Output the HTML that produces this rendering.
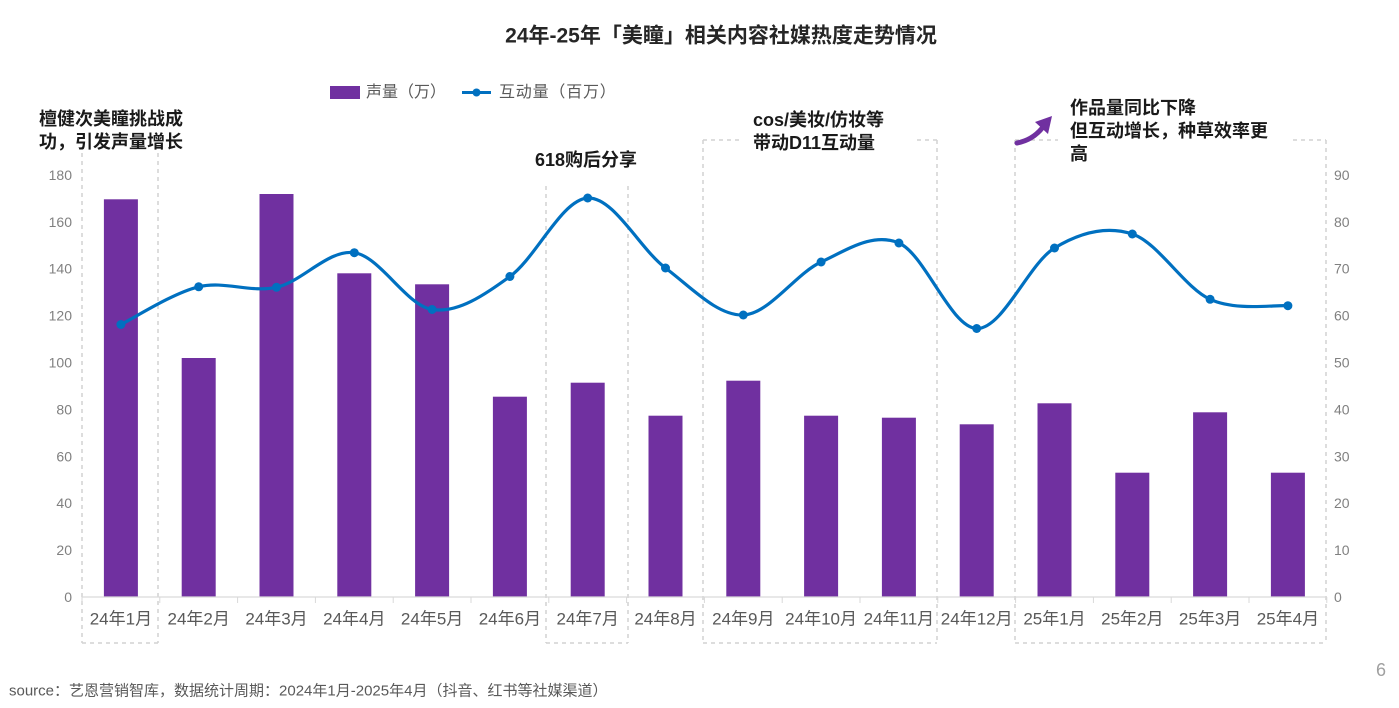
<!DOCTYPE html>
<html>
<head>
<meta charset="utf-8">
<style>
html,body{margin:0;padding:0;background:#fff;}
body{width:1399px;height:708px;overflow:hidden;}
svg{display:block;font-family:"Liberation Sans","Noto Sans CJK SC",sans-serif;}
.ax{font-size:14px;fill:#808080;}
.xl{font-size:17px;fill:#595959;}
.ann{font-size:18px;font-weight:700;fill:#1a1a1a;}
</style>
</head>
<body>
<svg width="1399" height="708" viewBox="0 0 1399 708" xmlns="http://www.w3.org/2000/svg">
  <rect width="1399" height="708" fill="#fff"/>

  <!-- Title -->
  <text x="721" y="36" text-anchor="middle" dominant-baseline="central" font-size="21" font-weight="700" fill="#262626">24年-25年「美瞳」相关内容社媒热度走势情况</text>

  <!-- Legend -->
  <rect x="330" y="86" width="30" height="13" fill="#7030a0"/>
  <text x="366" y="92.5" dominant-baseline="central" font-size="16" fill="#595959">声量（万）</text>
  <line x1="462" y1="92.5" x2="491" y2="92.5" stroke="#0070c0" stroke-width="3"/>
  <circle cx="476.5" cy="92.5" r="4" fill="#0070c0"/>
  <text x="499" y="92.5" dominant-baseline="central" font-size="16" fill="#595959" letter-spacing="0.8">互动量（百万）</text>

  <!-- Dashed highlight boxes -->
  <g fill="none" stroke="#d2d2d2" stroke-width="1.5" stroke-dasharray="4 4">
    <!-- box 24年1月 -->
    <line x1="82" y1="153" x2="82" y2="643"/>
    <line x1="158" y1="153" x2="158" y2="643"/>
    <line x1="82" y1="643" x2="158" y2="643"/>
    <!-- box 24年7月 -->
    <line x1="546" y1="186" x2="546" y2="643"/>
    <line x1="628" y1="186" x2="628" y2="643"/>
    <line x1="546" y1="643" x2="628" y2="643"/>
    <!-- box 24年9-11月 -->
    <line x1="703" y1="140" x2="703" y2="643"/>
    <line x1="937" y1="140" x2="937" y2="643"/>
    <line x1="703" y1="643" x2="937" y2="643"/>
    <line x1="703" y1="140" x2="740" y2="140"/>
    <line x1="917" y1="140" x2="937" y2="140"/>
    <!-- box 25年1-4月 -->
    <line x1="1015" y1="140" x2="1015" y2="643"/>
    <line x1="1326" y1="140" x2="1326" y2="643"/>
    <line x1="1015" y1="643" x2="1326" y2="643"/>
    <line x1="1015" y1="140" x2="1058" y2="140"/>
    <line x1="1293" y1="140" x2="1326" y2="140"/>
  </g>

  <!-- Left axis labels -->
  <g class="ax" text-anchor="end" dominant-baseline="central">
    <text x="72" y="597">0</text>
    <text x="72" y="550.1">20</text>
    <text x="72" y="503.2">40</text>
    <text x="72" y="456.3">60</text>
    <text x="72" y="409.4">80</text>
    <text x="72" y="362.5">100</text>
    <text x="72" y="315.6">120</text>
    <text x="72" y="268.7">140</text>
    <text x="72" y="221.8">160</text>
    <text x="72" y="174.9">180</text>
  </g>
  <!-- Right axis labels -->
  <g class="ax" text-anchor="start" dominant-baseline="central">
    <text x="1334" y="597">0</text>
    <text x="1334" y="550.1">10</text>
    <text x="1334" y="503.2">20</text>
    <text x="1334" y="456.3">30</text>
    <text x="1334" y="409.4">40</text>
    <text x="1334" y="362.5">50</text>
    <text x="1334" y="315.6">60</text>
    <text x="1334" y="268.7">70</text>
    <text x="1334" y="221.8">80</text>
    <text x="1334" y="174.9">90</text>
  </g>

  <!-- Bars -->
  <g fill="#7030a0">
    <rect x="103.9" y="199.3" width="34" height="397.7"/>
    <rect x="181.7" y="358" width="34" height="239"/>
    <rect x="259.5" y="194" width="34" height="403"/>
    <rect x="337.3" y="273.3" width="34" height="323.7"/>
    <rect x="415.1" y="284.3" width="34" height="312.7"/>
    <rect x="492.9" y="396.7" width="34" height="200.3"/>
    <rect x="570.7" y="382.7" width="34" height="214.3"/>
    <rect x="648.5" y="415.7" width="34" height="181.3"/>
    <rect x="726.3" y="380.7" width="34" height="216.3"/>
    <rect x="804.1" y="415.7" width="34" height="181.3"/>
    <rect x="881.9" y="417.7" width="34" height="179.3"/>
    <rect x="959.7" y="424.3" width="34" height="172.7"/>
    <rect x="1037.5" y="403.3" width="34" height="193.7"/>
    <rect x="1115.3" y="472.7" width="34" height="124.3"/>
    <rect x="1193.1" y="412.3" width="34" height="184.7"/>
    <rect x="1270.9" y="472.7" width="34" height="124.3"/>
  </g>

  <!-- X axis -->
  <line x1="82" y1="597" x2="1327" y2="597" stroke="#d9d9d9" stroke-width="1.2"/>
  <g stroke="#d9d9d9" stroke-width="1">
    <line x1="82" y1="597" x2="82" y2="603"/>
    <line x1="159.8" y1="597" x2="159.8" y2="603"/>
    <line x1="237.6" y1="597" x2="237.6" y2="603"/>
    <line x1="315.4" y1="597" x2="315.4" y2="603"/>
    <line x1="393.2" y1="597" x2="393.2" y2="603"/>
    <line x1="471" y1="597" x2="471" y2="603"/>
    <line x1="548.8" y1="597" x2="548.8" y2="603"/>
    <line x1="626.6" y1="597" x2="626.6" y2="603"/>
    <line x1="704.4" y1="597" x2="704.4" y2="603"/>
    <line x1="782.2" y1="597" x2="782.2" y2="603"/>
    <line x1="860" y1="597" x2="860" y2="603"/>
    <line x1="937.8" y1="597" x2="937.8" y2="603"/>
    <line x1="1015.6" y1="597" x2="1015.6" y2="603"/>
    <line x1="1093.4" y1="597" x2="1093.4" y2="603"/>
    <line x1="1171.2" y1="597" x2="1171.2" y2="603"/>
    <line x1="1249" y1="597" x2="1249" y2="603"/>
    <line x1="1326.8" y1="597" x2="1326.8" y2="603"/>
  </g>
  <g class="xl" text-anchor="middle" dominant-baseline="central">
    <text x="120.9" y="619">24年1月</text>
    <text x="198.7" y="619">24年2月</text>
    <text x="276.5" y="619">24年3月</text>
    <text x="354.3" y="619">24年4月</text>
    <text x="432.1" y="619">24年5月</text>
    <text x="509.9" y="619">24年6月</text>
    <text x="587.7" y="619">24年7月</text>
    <text x="665.5" y="619">24年8月</text>
    <text x="743.3" y="619">24年9月</text>
    <text x="821.1" y="619">24年10月</text>
    <text x="898.9" y="619">24年11月</text>
    <text x="976.7" y="619">24年12月</text>
    <text x="1054.5" y="619">25年1月</text>
    <text x="1132.3" y="619">25年2月</text>
    <text x="1210.1" y="619">25年3月</text>
    <text x="1287.9" y="619">25年4月</text>
  </g>

  <!-- Line series -->
  <path fill="none" stroke="#0070c0" stroke-width="3.2" stroke-linejoin="round" stroke-linecap="round"
    d="M120.9,324.5
       C133.87,318.22 172.77,293.0 198.7,286.8
       C224.63,280.6 250.57,292.98 276.5,287.3
       C302.43,281.62 328.37,249.0 354.3,252.7
       C380.23,256.4 406.17,305.53 432.1,309.5
       C458.03,313.47 483.97,295.08 509.9,276.5
       C535.83,257.92 561.77,199.42 587.7,198
       C613.63,196.58 639.57,248.5 665.5,268
       C691.43,287.5 717.37,316.0 743.3,315
       C769.23,314.0 795.17,274 821.1,262
       C847.03,250 872.97,231.92 898.9,243
       C924.83,254.08 950.77,327.67 976.7,328.5
       C1002.63,329.33 1028.57,263.75 1054.5,248
       C1080.43,232.25 1106.37,225.45 1132.3,234
       C1158.23,242.55 1184.17,287.35 1210.1,299.3
       C1236.03,311.25 1274.93,304.63 1287.9,305.7"/>
  <g fill="#0070c0">
    <circle cx="120.9" cy="324.5" r="4.5"/>
    <circle cx="198.7" cy="286.8" r="4.5"/>
    <circle cx="276.5" cy="287.3" r="4.5"/>
    <circle cx="354.3" cy="252.7" r="4.5"/>
    <circle cx="432.1" cy="309.5" r="4.5"/>
    <circle cx="509.9" cy="276.5" r="4.5"/>
    <circle cx="587.7" cy="198" r="4.5"/>
    <circle cx="665.5" cy="268" r="4.5"/>
    <circle cx="743.3" cy="315" r="4.5"/>
    <circle cx="821.1" cy="262" r="4.5"/>
    <circle cx="898.9" cy="243" r="4.5"/>
    <circle cx="976.7" cy="328.5" r="4.5"/>
    <circle cx="1054.5" cy="248" r="4.5"/>
    <circle cx="1132.3" cy="234" r="4.5"/>
    <circle cx="1210.1" cy="299.3" r="4.5"/>
    <circle cx="1287.9" cy="305.7" r="4.5"/>
  </g>

  <!-- Annotations -->
  <g class="ann" dominant-baseline="central">
    <text x="39" y="119">檀健次美瞳挑战成</text>
    <text x="39" y="142">功，引发声量增长</text>
    <text x="535" y="160">618购后分享</text>
    <text x="753" y="120">cos/美妆/仿妆等</text>
    <text x="753" y="143">带动D11互动量</text>
    <text x="1070" y="108">作品量同比下降</text>
    <text x="1070" y="131">但互动增长，种草效率更</text>
    <text x="1070" y="154">高</text>
  </g>

  <!-- Purple arrow -->
  <path d="M1017,143 Q1033,140 1043,127" fill="none" stroke="#7030a0" stroke-width="5" stroke-linecap="round"/>
  <polygon points="1052,116 1035,122 1048,134" fill="#7030a0"/>

  <!-- Footer -->
  <text x="9" y="691" dominant-baseline="central" font-size="15" fill="#595959">source：艺恩营销智库，数据统计周期：2024年1月-2025年4月（抖音、红书等社媒渠道）</text>
  <text x="1381" y="670" text-anchor="middle" dominant-baseline="central" font-size="18" fill="#a0a0a0">6</text>
</svg>
</body>
</html>
